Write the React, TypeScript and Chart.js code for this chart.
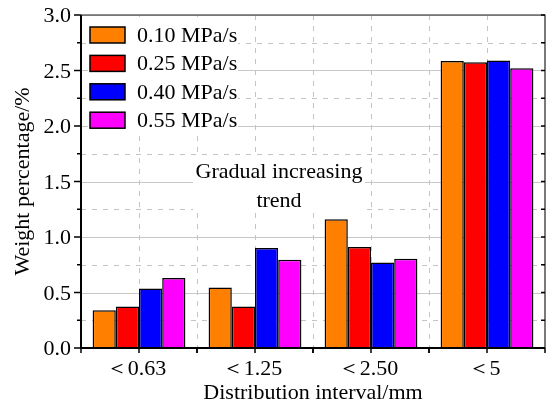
import React, { useEffect, useRef } from "react";
import { Chart, registerables } from "chart.js";

Chart.register(...registerables);

const categories = ["＜0.63", "＜1.25", "＜2.50", "＜5"];
const seriesLabels = ["0.10 MPa/s", "0.25 MPa/s", "0.40 MPa/s", "0.55 MPa/s"];
const s010 = [0.34, 0.545, 1.16, 2.585];
const s025 = [0.375, 0.375, 0.91, 2.575];
const s040 = [0.535, 0.9, 0.77, 2.59];
const s055 = [0.63, 0.795, 0.805, 2.52];
const seriesColors = ["#ff8000", "#ff0000", "#0000ff", "#ff00ff"];
const yMajorTicks = [0, 0.5, 1.0, 1.5, 2.0, 2.5, 3.0];
const yMinorTicks = [0.25, 0.75, 1.25, 1.75, 2.25, 2.75];
const annotationLines = ["Gradual increasing", "trend"];
const xTitle = "Distribution interval/mm";
const yTitle = "Weight percentage/%";

const FONT = "'Liberation Serif', 'Times New Roman', serif";

const decorPlugin = {
  id: "decor",
  beforeDatasetsDraw(chart: any) {
    const { ctx, chartArea: a, scales } = chart;
    const y = scales.y;
    const x = scales.x;
    ctx.save();
    ctx.strokeStyle = "#c8c8c8";
    ctx.lineWidth = 1;
    ctx.setLineDash([]);
    yMajorTicks.forEach((v) => {
      const py = Math.round(y.getPixelForValue(v)) + 0.5;
      ctx.beginPath();
      ctx.moveTo(a.left, py);
      ctx.lineTo(a.right, py);
      ctx.stroke();
    });
    ctx.setLineDash([5, 6]);
    ctx.strokeStyle = "#c4c4c4";
    yMinorTicks.forEach((v) => {
      const py = Math.round(y.getPixelForValue(v)) + 0.5;
      ctx.beginPath();
      ctx.moveTo(a.left, py);
      ctx.lineTo(a.right, py);
      ctx.stroke();
    });
    const n = categories.length;
    const w = (a.right - a.left) / n;
    for (let i = 0; i < n; i++) {
      const cx = x.getPixelForValue(i);
      [cx, cx + w / 2].forEach((px, k) => {
        if (k === 1 && i === n - 1) return;
        const p = Math.round(px) + 0.5;
        ctx.beginPath();
        ctx.moveTo(p, a.top);
        ctx.lineTo(p, a.bottom);
        ctx.stroke();
      });
    }
    ctx.restore();
  },
  afterDatasetsDraw(chart: any) {
    const { ctx, chartArea: a, scales } = chart;
    const y = scales.y;
    const x = scales.x;
    ctx.save();
    ctx.setLineDash([]);
    ctx.strokeStyle = "#222";
    ctx.lineWidth = 1.2;
    ctx.beginPath();
    ctx.moveTo(a.left, a.top);
    ctx.lineTo(a.right, a.top);
    ctx.lineTo(a.right, a.bottom);
    ctx.stroke();
    ctx.strokeStyle = "#000";
    ctx.lineWidth = 2;
    ctx.beginPath();
    ctx.moveTo(a.left, a.top);
    ctx.lineTo(a.left, a.bottom);
    ctx.lineTo(a.right, a.bottom);
    ctx.stroke();
    ctx.lineWidth = 1.5;
    yMajorTicks.forEach((v) => {
      const py = y.getPixelForValue(v);
      ctx.beginPath();
      ctx.moveTo(a.left - 7, py);
      ctx.lineTo(a.left, py);
      ctx.stroke();
      ctx.beginPath();
      ctx.moveTo(a.right - 4, py);
      ctx.lineTo(a.right, py);
      ctx.stroke();
    });
    yMinorTicks.forEach((v) => {
      const py = y.getPixelForValue(v);
      ctx.beginPath();
      ctx.moveTo(a.left - 4, py);
      ctx.lineTo(a.left, py);
      ctx.stroke();
      ctx.beginPath();
      ctx.moveTo(a.right - 4, py);
      ctx.lineTo(a.right, py);
      ctx.stroke();
    });
    const n = categories.length;
    const w = (a.right - a.left) / n;
    for (let i = 0; i < n; i++) {
      const cx = x.getPixelForValue(i);
      [cx - w / 2, cx, cx + w / 2].forEach((px) => {
        ctx.beginPath();
        ctx.moveTo(px, a.bottom);
        ctx.lineTo(px, a.bottom + 5);
        ctx.stroke();
      });
    }
    ctx.font = `22px ${FONT}`;
    ctx.fillStyle = "#000";
    ctx.textBaseline = "alphabetic";
    // y tick labels
    ctx.textAlign = "right";
    yMajorTicks.forEach((v) => {
      ctx.fillText(v.toFixed(1), a.left - 10, y.getPixelForValue(v) + 7);
    });
    // x tick labels
    ctx.textAlign = "center";
    categories.forEach((c, i) => {
      ctx.fillText(c, x.getPixelForValue(i) - 3, a.bottom + 27);
    });
    // legend
    ctx.fillStyle = "#fff";
    ctx.fillRect(88, 17, 150, 118);
    ctx.textAlign = "left";
    seriesLabels.forEach((lab, i) => {
      const top = 27 + i * 28.4;
      ctx.fillStyle = seriesColors[i];
      ctx.fillRect(90, top, 35, 16);
      ctx.strokeStyle = "#000";
      ctx.lineWidth = 1.5;
      ctx.strokeRect(90, top, 35, 16);
      ctx.fillStyle = "#000";
      ctx.fillText(lab, 137, top + 15);
    });
    // annotation
    ctx.fillStyle = "#fff";
    ctx.fillRect(193, 157, 172, 56);
    ctx.fillStyle = "#000";
    ctx.textAlign = "center";
    annotationLines.forEach((t, i) => {
      ctx.fillText(t, 279, 177.5 + i * 29.5);
    });
    // titles
    ctx.fillText(xTitle, (a.left + a.right) / 2, 399);
    ctx.save();
    ctx.translate(29, (a.top + a.bottom) / 2);
    ctx.rotate(-Math.PI / 2);
    ctx.fillText(yTitle, 0, 0);
    ctx.restore();
    ctx.restore();
  },
};

export default function App() {
  const ref = useRef<HTMLCanvasElement>(null);
  useEffect(() => {
    const datasets = [s010, s025, s040, s055].map((d, i) => ({
      label: seriesLabels[i],
      data: d,
      backgroundColor: seriesColors[i],
      borderColor: "#000",
      borderWidth: 1.5,
      categoryPercentage: 0.8,
      barPercentage: 1.0,
    }));
    const chart = new Chart(ref.current as HTMLCanvasElement, {
      type: "bar",
      data: { labels: categories, datasets },
      options: {
        responsive: false,
        animation: false,
        layout: { padding: { top: 15, right: 10, left: 0, bottom: 0 } },
        plugins: { legend: { display: false }, tooltip: { enabled: false } },
        scales: {
          x: {
            grid: { display: false, drawTicks: false },
            border: { display: false },
            ticks: { display: false },
            afterFit: (s: any) => {
              s.height = 57;
            },
          },
          y: {
            min: 0,
            max: 3,
            grid: { display: false, drawTicks: false },
            border: { display: false },
            ticks: { display: false, stepSize: 0.5 },
            afterFit: (s: any) => {
              s.width = 81;
            },
          },
        },
      },
      plugins: [decorPlugin],
    });
    return () => chart.destroy();
  }, []);
  return (
    <div style={{ position: "fixed", left: 0, top: 0, width: 555, height: 405, background: "#fff" }}>
      <canvas ref={ref} width={555} height={405} style={{ display: "block" }} />
    </div>
  );
}
